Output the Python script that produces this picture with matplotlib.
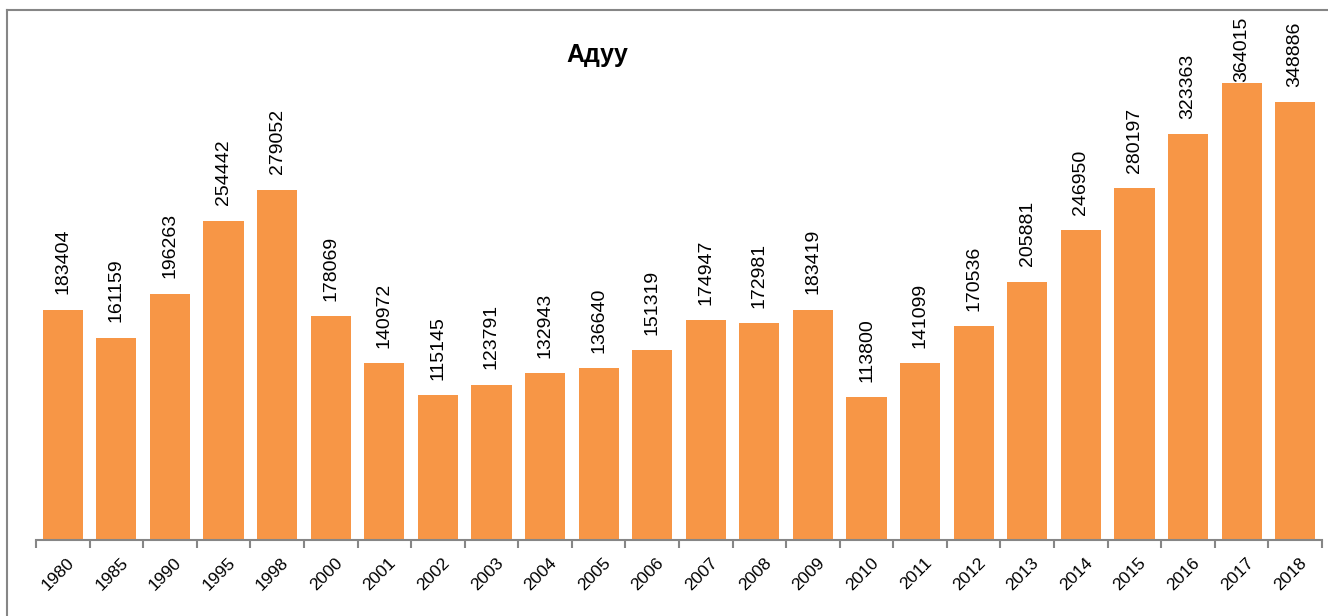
import matplotlib
matplotlib.use("Agg")
import matplotlib.pyplot as plt
from matplotlib.lines import Line2D
import matplotlib.transforms as mtransforms

years = ["1980", "1985", "1990", "1995", "1998", "2000", "2001", "2002", "2003", "2004",
         "2005", "2006", "2007", "2008", "2009", "2010", "2011", "2012", "2013", "2014",
         "2015", "2016", "2017", "2018"]
values = [183404, 161159, 196263, 254442, 279052, 178069, 140972, 115145, 123791, 132943,
          136640, 151319, 174947, 172981, 183419, 113800, 141099, 170536, 205881, 246950,
          280197, 323363, 364015, 348886]
title = "Адуу"

W, H = 1328, 616
fig = plt.figure(figsize=(W / 100, H / 100), dpi=100)
plt.rcParams['font.family'] = ['Liberation Sans', 'DejaVu Sans']

ax = fig.add_axes([36 / W, (H - 540) / H, (1322 - 36) / W, (540 - 17) / H])
x = list(range(len(years)))
ax.bar(x, values, width=0.75, color="#F79646", zorder=2)
ax.set_xlim(-0.5, len(years) - 0.5)
ax.set_ylim(0, 416580)

for s in ["top", "right", "left"]:
    ax.spines[s].set_visible(False)
ax.spines["bottom"].set_color("#868686")
ax.spines["bottom"].set_linewidth(1.5)
ax.set_yticks([])
ax.set_xticks(x)
ax.set_xticklabels(years, rotation=45, ha="right", rotation_mode="anchor", fontsize=12.5)
ax.tick_params(axis="x", which="major", length=0, pad=11)
shift = mtransforms.ScaledTranslation(4 / 100, 0, fig.dpi_scale_trans)
for lab in ax.get_xticklabels():
    lab.set_transform(lab.get_transform() + shift)
ax.set_xticks([i - 0.5 for i in range(len(years) + 1)], minor=True)
ax.tick_params(axis="x", which="minor", length=6, width=1.5, color="#868686")
ax.patch.set_visible(False)

texts = []
for xi, v in zip(x, values):
    t = ax.annotate(f"{v}", xy=(xi, v), xytext=(0, 11), textcoords="offset points",
                    rotation=90, ha="center", va="bottom", fontsize=14)
    texts.append(t)

fig.text(597 / W, 1 - 55 / H, title, ha="center", va="center", fontsize=18, fontweight="bold")

# Border
fig.add_artist(Line2D([7 / W, 7 / W], [0, 1 - 10 / H], transform=fig.transFigure,
                      color="#868686", lw=1.5))
fig.add_artist(Line2D([7 / W, 1], [1 - 10 / H, 1 - 10 / H], transform=fig.transFigure,
                      color="#868686", lw=1.5))

# Clamp labels inside plot area
fig.canvas.draw()
r = fig.canvas.get_renderer()
ax_top = ax.get_window_extent(r).y1
for t in texts:
    bb = t.get_window_extent(r)
    if bb.y1 > ax_top:
        dy = (bb.y1 - ax_top) * 72 / fig.dpi
        t.xyann = (0, 11 - dy)

fig.savefig("out.png", dpi=100)
